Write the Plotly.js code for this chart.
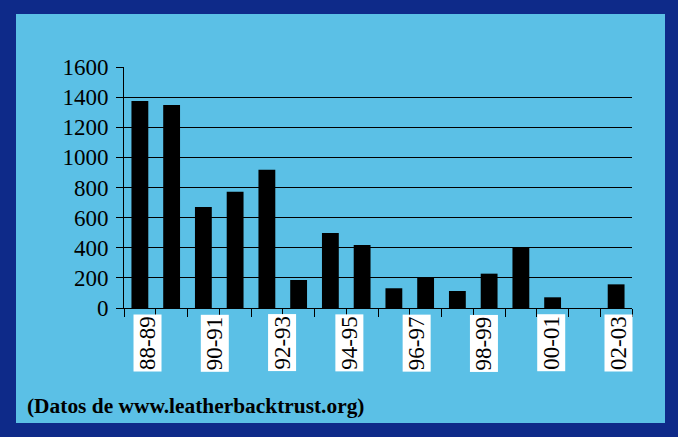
<!DOCTYPE html>
<html>
<head>
<meta charset="utf-8">
<script src="https://cdn.plot.ly/plotly-3.0.1.min.js"></script>
<style>
html,body{margin:0;padding:0;background:#0e2a89;width:678px;height:437px;overflow:hidden;}
#chart{position:absolute;left:16px;top:14px;width:649px;height:409px;}
</style>
</head>
<body>
<div id="chart"></div>
<script>
// Data
const seasons = ['88-89','89-90','90-91','91-92','92-93','93-94','94-95','95-96',
                 '96-97','97-98','98-99','99-00','00-01','01-02','02-03','03-04'];
const nests = [1374, 1348, 671, 772, 918, 186, 498, 418,
               131, 204, 113, 228, 400, 71, null, 157];
const tickLabels = ['88-89','90-91','92-93','94-95','96-97','98-99','00-01','02-03'];
const yTicks = [0, 200, 400, 600, 800, 1000, 1200, 1400, 1600];
const sourceText = '(Datos de www.leatherbacktrust.org)';

const SERIF = 'Liberation Serif, Times New Roman, Times, serif';
const panel = '#5bc0e6';

const traces = [
  {
    type: 'bar',
    x: seasons,
    y: nests,
    marker: {color: '#000000', line: {width: 0}},
    hoverinfo: 'x+y',
    showlegend: false
  },
  {
    type: 'scatter',
    mode: 'markers',
    x: tickLabels,
    y: tickLabels.map(() => null),
    xaxis: 'x2',
    yaxis: 'y',
    hoverinfo: 'skip',
    showlegend: false
  }
];

const annotations = tickLabels.map(t => ({
  xref: 'x2', yref: 'paper',
  x: t, y: 0,
  yanchor: 'top', xanchor: 'center',
  yshift: -6,
  text: t,
  textangle: -90,
  showarrow: false,
  bgcolor: '#ffffff',
  borderpad: 1,
  font: {family: SERIF, size: 23, color: '#000000'}
}));

annotations.push({
  xref: 'paper', yref: 'paper',
  x: -0.194, y: -0.405,
  xanchor: 'left', yanchor: 'middle',
  text: '<b>' + sourceText + '</b>',
  showarrow: false,
  font: {family: SERIF, size: 21.4, color: '#000000'}
});

const layout = {
  width: 649,
  height: 409,
  margin: {l: 108, r: 33, t: 53, b: 115, pad: 0},
  paper_bgcolor: panel,
  plot_bgcolor: panel,
  bargap: 0.47,
  showlegend: false,
  xaxis: {
    type: 'category',
    categoryorder: 'array',
    categoryarray: seasons,
    range: [-0.5, seasons.length - 0.5],
    showticklabels: false,
    ticks: 'outside',
    tickson: 'boundaries',
    ticklen: 8,
    tickwidth: 1,
    tickcolor: '#000000',
    showline: true,
    linecolor: '#000000',
    linewidth: 1,
    showgrid: false,
    zeroline: false,
    fixedrange: true
  },
  xaxis2: {
    type: 'category',
    categoryorder: 'array',
    categoryarray: tickLabels,
    overlaying: 'x',
    anchor: 'y',
    range: [-0.342, 7.208],
    visible: false,
    fixedrange: true
  },
  yaxis: {
    range: [0, 1600],
    tickmode: 'array',
    tickvals: yTicks,
    ticktext: yTicks.map(String),
    ticks: 'outside',
    ticklen: 7,
    tickwidth: 1,
    tickcolor: '#000000',
    ticklabelstandoff: 3,
    showline: true,
    linecolor: '#000000',
    linewidth: 1,
    showgrid: true,
    gridcolor: '#000000',
    gridwidth: 1,
    zeroline: false,
    tickfont: {family: SERIF, size: 23, color: '#000000'},
    fixedrange: true
  },
  annotations: annotations
};

Plotly.newPlot('chart', traces, layout, {displayModeBar: false, staticPlot: true});
</script>
</body>
</html>
